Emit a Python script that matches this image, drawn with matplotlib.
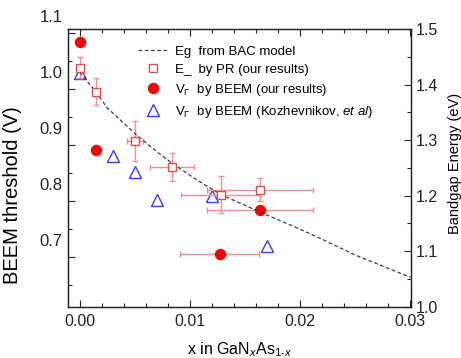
"""
BEEM threshold and bandgap energy vs N fraction in GaNxAs1-x.
"""

import matplotlib
matplotlib.use("Agg")
import matplotlib.pyplot as plt
import matplotlib.transforms as mtransforms
from matplotlib.ticker import MultipleLocator, FixedLocator

plt.rcParams['font.family'] = ['Liberation Sans', 'DejaVu Sans']
plt.rcParams['mathtext.fontset'] = 'custom'
plt.rcParams['mathtext.rm'] = 'Liberation Sans'
plt.rcParams['mathtext.it'] = 'Liberation Sans:italic'

# Eg from BAC model (right axis, eV)
bac_x = [0.0, 0.0015, 0.0025, 0.005, 0.007, 0.0084, 0.0105, 0.0128, 0.0164,
         0.0190, 0.0215, 0.025, 0.030]
bac_eg = [1.422, 1.386, 1.358, 1.312, 1.279, 1.258, 1.230, 1.202, 1.170,
          1.148, 1.126, 1.093, 1.053]

# E_ by PR (right axis, eV)
pr_x = [0.0, 0.00145, 0.0050, 0.0084, 0.0128, 0.01635]
pr_e = [1.430, 1.387, 1.299, 1.251, 1.202, 1.211]
pr_xerr = [0.0, 0.0, 0.0007, 0.0020, 0.0036, 0.0048]
pr_yerr = [0.019, 0.024, 0.036, 0.025, 0.034, 0.020]

# V_Gamma by BEEM, our results (left axis, V)
beem_x = [0.0, 0.00145, 0.0127, 0.01635]
beem_v = [1.084, 0.892, 0.707, 0.784]
beem_xerr = [0.0, 0.0, 0.0036, 0.0048]

# V_Gamma by BEEM, Kozhevnikov et al (left axis, V)
koz_x = [0.0, 0.003, 0.005, 0.007, 0.012, 0.017]
koz_v = [1.030, 0.881, 0.852, 0.802, 0.810, 0.720]

fig = plt.figure(figsize=(4.61, 3.58), dpi=100)
ax = fig.add_axes([0.1475, 0.1433, 0.7451, 0.7757])
ax2 = ax.twinx()

red_light = '#f09090'

# Left axis: BEEM points
ax.plot(beem_x, beem_v, 'o', color='#ff0000', markersize=7.2, zorder=4)
ax.errorbar(beem_x, beem_v, xerr=beem_xerr, fmt='none', ecolor=red_light,
            elinewidth=1, capsize=2.5, zorder=2)
ax.plot(koz_x, koz_v, '^', markerfacecolor='none', markeredgecolor='#3c3cf0',
        markersize=8.5, markeredgewidth=1, zorder=4)

# Right axis: BAC curve and PR points
ax2.plot(bac_x, bac_eg, color='#404040', linewidth=0.9, dashes=(3, 2), zorder=3)
ax2.errorbar(pr_x, pr_e, xerr=pr_xerr, yerr=pr_yerr, fmt='none', ecolor=red_light,
             elinewidth=1, capsize=2.5, zorder=2)
ax2.plot(pr_x, pr_e, 's', markerfacecolor='white', markeredgecolor='#e05050',
         markersize=6, markeredgewidth=1, zorder=4)

# Axes limits and ticks
ax.set_xlim(-0.00106, 0.0301)
ax.set_ylim(0.612, 1.108)
ax2.set_ylim(1.0, 1.5)

ax.xaxis.set_major_locator(FixedLocator([0.0, 0.01, 0.02, 0.03]))
ax.xaxis.set_minor_locator(MultipleLocator(0.002))
ax.set_xticklabels(['0.00', '0.01', '0.02', '0.03'])
ax.yaxis.set_major_locator(FixedLocator([0.7, 0.8, 0.9, 1.0, 1.1]))
ax.yaxis.set_minor_locator(MultipleLocator(0.05))
ax.set_yticklabels(['0.7', '0.8', '0.9', '1.0', '1.1'])
ax2.yaxis.set_major_locator(FixedLocator([1.0, 1.1, 1.2, 1.3, 1.4, 1.5]))
ax2.yaxis.set_minor_locator(MultipleLocator(0.05))
ax2.set_yticklabels(['1.0', '1.1', '1.2', '1.3', '1.4', '1.5'])

ax.tick_params(axis='x', which='both', direction='in', top=True, bottom=True,
               labelsize=11.5, pad=5, colors='#222222')
ax.tick_params(axis='y', which='both', direction='in', left=True, right=False,
               labelsize=12, pad=4, colors='#222222')
ax2.tick_params(axis='y', which='both', direction='in', right=True,
                labelsize=11.5, pad=3, colors='#222222')
for a in (ax, ax2):
    a.tick_params(which='major', length=5, width=0.8)
    a.tick_params(which='minor', length=3, width=0.8)
    for s in a.spines.values():
        s.set_color('#222222')
        s.set_linewidth(0.9)

# left tick labels sit higher than their ticks in the original
shift = mtransforms.ScaledTranslation(0, 0.17, fig.dpi_scale_trans)
for t in ax.yaxis.get_major_ticks():
    t.label1.set_transform(t.label1.get_transform() + shift)

ax.set_xlabel('x in GaN$_x$As$_{1\u2011x}$', fontsize=11.5)
ax.xaxis.set_label_coords(0.5, -0.12)
ax.set_ylabel('BEEM threshold (V)', fontsize=14.5)
ax.yaxis.set_label_coords(-0.135, 0.40)
ax2.set_ylabel('Bandgap Energy (eV)', fontsize=10.5)
ax2.yaxis.set_label_coords(1.105, 0.516)

# Legend built from proxy handles
h_bac, = ax.plot([], [], color='#404040', linewidth=0.9, dashes=(3, 2))
h_pr, = ax.plot([], [], 's', markerfacecolor='white', markeredgecolor='#e05050',
                markersize=6, markeredgewidth=1)
h_beem, = ax.plot([], [], 'o', color='#ff0000', markersize=7.2)
h_koz, = ax.plot([], [], '^', markerfacecolor='none', markeredgecolor='#3c3cf0',
                 markersize=8.5, markeredgewidth=1)
labels = ['Eg  from BAC model',
          'E_  by PR (our results)',
          'V$_\\Gamma$  by BEEM (our results)',
          'V$_\\Gamma$  by BEEM (Kozhevnikov, $\\mathit{et\\ al}$)']
ax2.legend([h_bac, h_pr, h_beem, h_koz], labels, loc='upper left',
           bbox_to_anchor=(0.188, 0.96), frameon=False, fontsize=9.5,
           handlelength=2.3, handletextpad=0.55, labelspacing=0.45,
           borderaxespad=0)

fig.savefig('out.png', dpi=100)
